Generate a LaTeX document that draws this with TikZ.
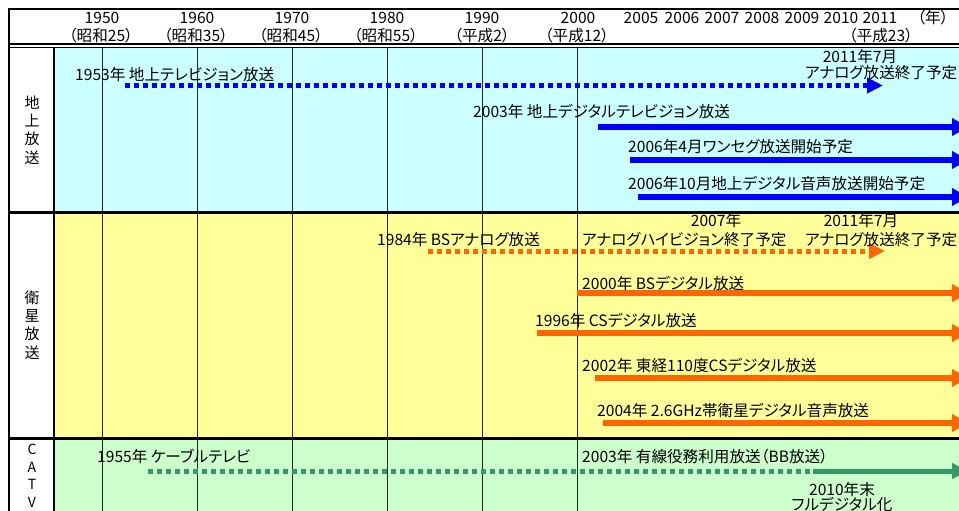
\documentclass[tikz,border=0pt]{standalone}
\usepackage{fontspec}
\setmainfont{Noto Sans CJK JP}[RawFeature=+palt]
\usetikzlibrary{arrows.meta}
\definecolor{bgcyan}{HTML}{CCFFFF}
\definecolor{bgyellow}{HTML}{FFFF99}
\definecolor{bggreen}{HTML}{CCFFCC}
\definecolor{arblue}{HTML}{0000FF}
\definecolor{arorange}{HTML}{FF6600}
\definecolor{argreen}{HTML}{339966}
\begin{document}
\begin{tikzpicture}[x=1pt,y=-1pt,
  lbl/.style={inner sep=0pt, font=\fontsize{15.6}{17}\selectfont},
  vlbl/.style={inner sep=0pt, align=center, font=\fontsize{15}{18.3}\selectfont},
  gridline/.style={line width=1pt, black!85},
  frameline/.style={line width=2.5pt, black},
  solidarrow/.style={line width=6pt, line cap=butt, -{Triangle[length=16pt,width=17pt]}},
  dotline/.style={line width=5pt, line cap=butt, dash pattern=on 4.5pt off 4.5pt},
  dotarrow/.style={dotline, -{Triangle[length=16pt,width=15pt]}}]
\useasboundingbox (0,0) rectangle (959,511);
\clip (0,0) rectangle (959,511);
\fill[white] (0,0) rectangle (959,511);
% backgrounds
\fill[bgcyan] (54,48) rectangle (959,212);
\fill[bgyellow] (54,212) rectangle (959,438);
\fill[bggreen] (54,438) rectangle (959,511);
% grid
\foreach \gx in {102,197,292,387,482,577}
  \draw[gridline] (\gx,48) -- (\gx,511);
% frame
\draw[frameline] (9,520) -- (9,9) -- (970,9);
\draw[line width=2pt] (9,44.5) -- (970,44.5);
\draw[line width=1pt] (9,47.6) -- (970,47.6);
\draw[line width=2pt] (54,47.6) -- (54,520);
\draw[line width=3pt] (9,212.5) -- (970,212.5);
\draw[line width=3pt] (9,438.5) -- (970,438.5);
% header
\node[lbl, anchor=base] (y1950) at (102,23.5) {1950};
\node[lbl, anchor=base] (y1960) at (197,23.5) {1960};
\node[lbl, anchor=base] (y1970) at (292,23.5) {1970};
\node[lbl, anchor=base] (y1980) at (387,23.5) {1980};
\node[lbl, anchor=base] (y1990) at (482,23.5) {1990};
\node[lbl, anchor=base] (y2000) at (578,23.5) {2000};
\node[lbl, anchor=base] (y2005) at (641,23.5) {2005};
\node[lbl, anchor=base] (y2006) at (682,23.5) {2006};
\node[lbl, anchor=base] (y2007) at (722,23.5) {2007};
\node[lbl, anchor=base] (y2008) at (762,23.5) {2008};
\node[lbl, anchor=base] (y2009) at (802,23.5) {2009};
\node[lbl, anchor=base] (y2010) at (841,23.5) {2010};
\node[lbl, anchor=base] (y2011) at (880,23.5) {2011};
\node[lbl, anchor=base] (nen) at (933,23.5) {（年）};
\node[lbl, anchor=base] (e1950) at (101,41.5) {（昭和25）};
\node[lbl, anchor=base] (e1960) at (196,41.5) {（昭和35）};
\node[lbl, anchor=base] (e1970) at (291,41.5) {（昭和45）};
\node[lbl, anchor=base] (e1980) at (386,41.5) {（昭和55）};
\node[lbl, anchor=base] (e1990) at (482,41.5) {（平成2）};
\node[lbl, anchor=base] (e2000) at (577,41.5) {（平成12）};
\node[lbl, anchor=base] (e2011) at (881,41.5) {（平成23）};
% left labels
\node[vlbl] (chijo) at (32,130) {地\\上\\放\\送};
\node[vlbl] (eisei) at (32,325) {衛\\星\\放\\送};
\node[vlbl, font=\fontsize{14}{17.5}\selectfont] (catv) at (32,476) {C\\A\\T\\V};
% terrestrial
\coordinate (t1s) at (125,85.5); \coordinate (t1e) at (883,85.5);
\draw[dotarrow, arblue] (t1s) -- (t1e);
\node[lbl, anchor=base west] (t1l) at (75,80.5) {1953年 地上テレビジョン放送};
\node[lbl, anchor=base] (t1d) at (860,62.5) {2011年7月};
\node[lbl, anchor=base west] (t1x) at (805,78.5) {アナログ放送終了予定};
\coordinate (t2s) at (598,127); \coordinate (t2e) at (968,127);
\draw[solidarrow, arblue] (t2s) -- (t2e);
\node[lbl, anchor=base west] (t2l) at (473,117.5) {2003年 地上デジタルテレビジョン放送};
\coordinate (t3s) at (630,160); \coordinate (t3e) at (968,160);
\draw[solidarrow, arblue] (t3s) -- (t3e);
\node[lbl, anchor=base west] (t3l) at (628,152.5) {2006年4月ワンセグ放送開始予定};
\coordinate (t4s) at (638,197); \coordinate (t4e) at (968,197);
\draw[solidarrow, arblue] (t4s) -- (t4e);
\node[lbl, anchor=base west] (t4l) at (628,189.5) {2006年10月地上デジタル音声放送開始予定};
% satellite
\coordinate (s1s) at (428,251); \coordinate (s1e) at (885,251);
\draw[dotarrow, arorange] (s1s) -- (s1e);
\node[lbl, anchor=base west] (s1l) at (377,245.5) {1984年 BSアナログ放送};
\node[lbl, anchor=base] (s1d1) at (716,226.5) {2007年};
\node[lbl, anchor=base west] (s1x1) at (582,245.5) {アナログハイビジョン終了予定};
\node[lbl, anchor=base] (s1d2) at (861,226.5) {2011年7月};
\node[lbl, anchor=base west] (s1x2) at (805,245.5) {アナログ放送終了予定};
\coordinate (s2s) at (577,293); \coordinate (s2e) at (968,293);
\draw[solidarrow, arorange] (s2s) -- (s2e);
\node[lbl, anchor=base west] (s2l) at (582,289.5) {2000年 BSデジタル放送};
\coordinate (s3s) at (537,333); \coordinate (s3e) at (968,333);
\draw[solidarrow, arorange] (s3s) -- (s3e);
\node[lbl, anchor=base west] (s3l) at (535,326.5) {1996年 CSデジタル放送};
\coordinate (s4s) at (595,378); \coordinate (s4e) at (968,378);
\draw[solidarrow, arorange] (s4s) -- (s4e);
\node[lbl, anchor=base west] (s4l) at (582,371.5) {2002年 東経110度CSデジタル放送};
\coordinate (s5s) at (603,423); \coordinate (s5e) at (968,423);
\draw[solidarrow, arorange] (s5s) -- (s5e);
\node[lbl, anchor=base west] (s5l) at (597,416.5) {2004年 2.6GHz帯衛星デジタル音声放送};
% CATV
\coordinate (c1s) at (148,471); \coordinate (c1m) at (813,471); \coordinate (c1e) at (968,471);
\draw[dotline, argreen] (c1s) -- (c1m);
\draw[line width=5pt, line cap=butt, -{Triangle[length=16pt,width=15pt]}, argreen] (c1m) -- (c1e);
\node[lbl, anchor=base west] (c1l) at (97,462.5) {1955年 ケーブルテレビ};
\node[lbl, anchor=base west] (c2l) at (582,462.5) {2003年 有線役務利用放送（BB放送）};
\node[lbl, anchor=base] (c3d) at (842,495) {2010年末};
\node[lbl, anchor=base] (c3x) at (842,510) {フルデジタル化};
\end{tikzpicture}
\end{document}
